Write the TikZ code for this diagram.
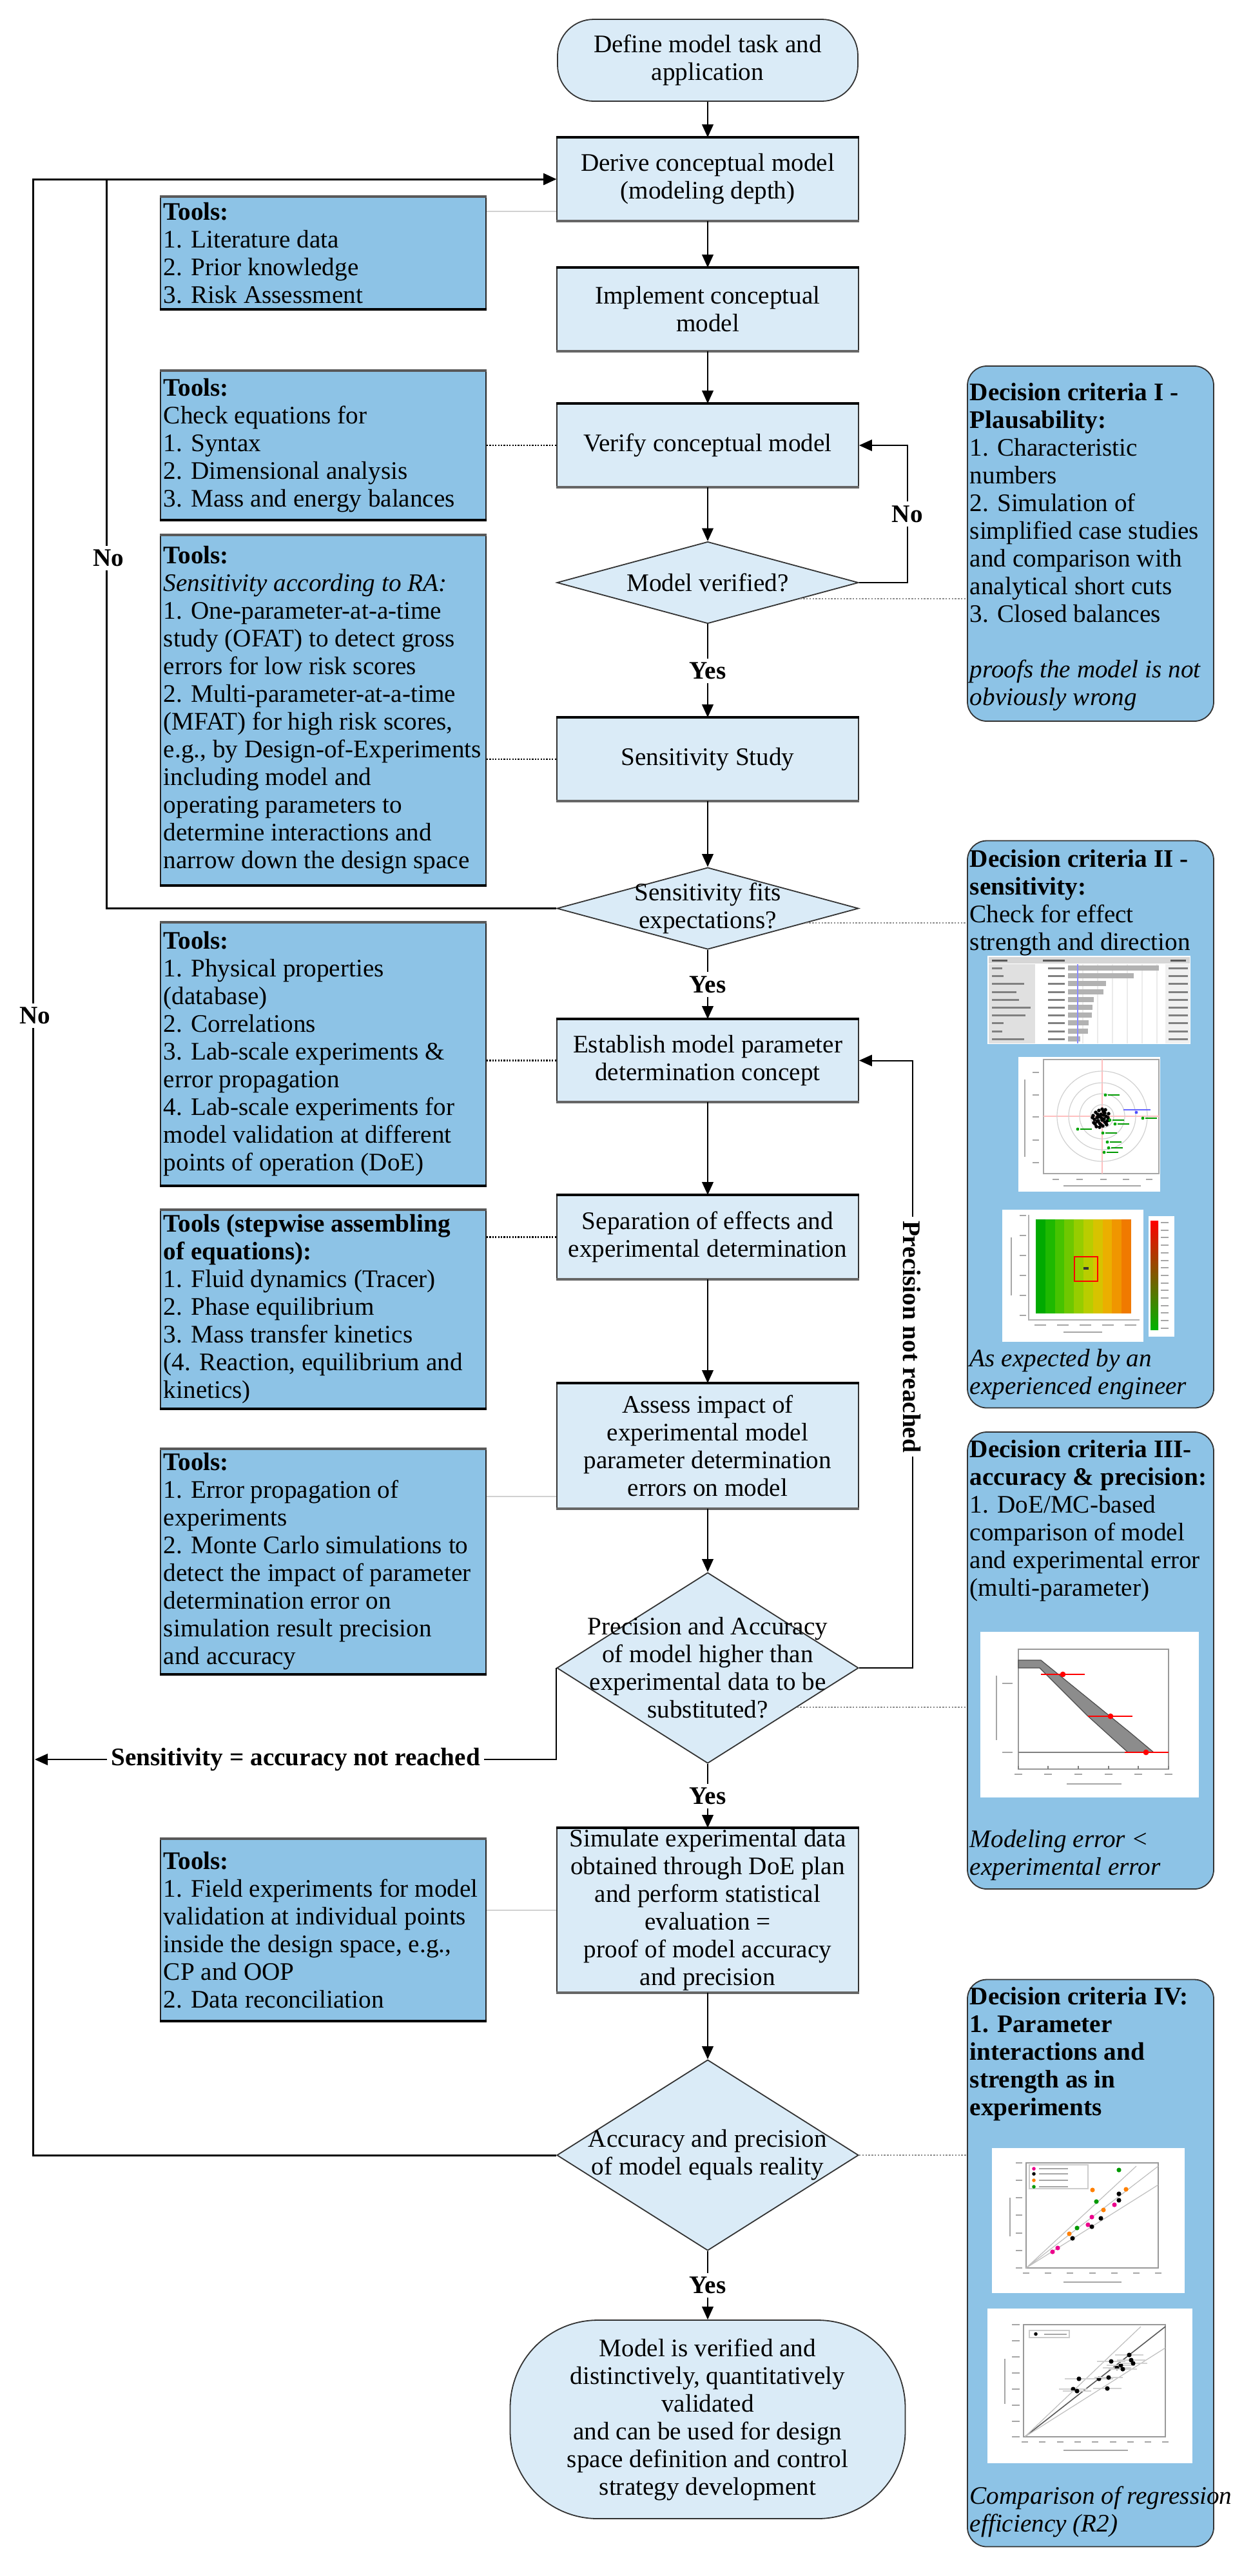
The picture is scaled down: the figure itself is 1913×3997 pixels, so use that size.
\documentclass[tikz,border=0pt]{standalone}
\usepackage{fontspec}
\setmainfont{Liberation Serif}
\usetikzlibrary{arrows.meta,shapes.geometric,calc}
\definecolor{procfill}{RGB}{218,235,247}
\definecolor{toolfill}{RGB}{141,195,230}
\definecolor{hmA}{RGB}{0,170,0}
\definecolor{hmB}{RGB}{30,185,0}
\definecolor{hmC}{RGB}{70,195,0}
\definecolor{hmD}{RGB}{110,200,0}
\definecolor{hmE}{RGB}{150,205,0}
\definecolor{hmF}{RGB}{185,205,0}
\definecolor{hmG}{RGB}{215,195,0}
\definecolor{hmH}{RGB}{235,175,0}
\definecolor{hmI}{RGB}{240,150,0}
\definecolor{hmJ}{RGB}{240,122,0}
\newcommand\mainsize{\fontsize{9.8pt}{10.75pt}\selectfont}
\begin{document}
\begin{tikzpicture}[x=0.25pt,y=-0.25pt,font=\mainsize,
 proc/.style={draw=black!80,line width=0.45pt,fill=procfill,minimum width=117pt,minimum height=32pt,inner sep=0pt,align=center},
 dia/.style={diamond,draw=black!80,line width=0.45pt,fill=procfill,minimum width=117pt,inner sep=0pt},
 diatext/.style={align=center,inner sep=0pt},
 tool/.style={draw=black!85,line width=0.45pt,fill=toolfill,minimum width=126.25pt,inner sep=0pt},
 tooltext/.style={anchor=west,align=left,inner sep=0pt},
 crit/.style={draw=black!80,line width=0.45pt,fill=toolfill,rounded corners=7.5pt,minimum width=95.5pt,inner sep=0pt},
 crittext/.style={anchor=north west,align=left,inner sep=0pt},
 flow/.style={draw=black,line width=0.5pt,-{Triangle[length=5pt,width=4.4pt]}},
 lbl/.style={fill=white,inner sep=1.5pt,font=\mainsize\bfseries},
 dotline/.style={draw=black,line width=0.7pt,dash pattern=on 0.55pt off 0.55pt},
 dcline/.style={draw=black!45,line width=0.6pt,dash pattern=on 0.6pt off 0.6pt},
 greyline/.style={draw=black!18,line width=0.6pt},
 stub/.style={fill=black!45},
 thin/.style={line width=0.3pt}
]
\useasboundingbox (0,0) rectangle (1913,3997);

% ---------- central column ----------
\node[proc,rounded corners=14pt,minimum width=116.5pt,minimum height=31.75pt] (start) at (1098,93.5) {Define model task and\\application};
\node[proc] (derive) at (1098,278) {Derive conceptual model\\(modeling depth)};
\node[proc] (implement) at (1098,480) {Implement conceptual\\model};
\node[proc] (verify) at (1098,691) {Verify conceptual model};
\node[dia,minimum height=31.75pt] (dec1) at (1098,904) {};
\node[diatext] (dec1t) at (dec1) {Model verified?};
\node[proc] (sens) at (1098,1178) {Sensitivity Study};
\node[dia,minimum height=31.75pt] (dec2) at (1098,1409.5) {};
\node[diatext] (dec2t) at (dec2) {Sensitivity fits\\expectations?};
\node[proc,minimum height=31.75pt] (establish) at (1098,1645.5) {Establish model parameter\\determination concept};
\node[proc,minimum height=32.25pt] (separation) at (1098,1919.5) {Separation of effects and\\experimental determination};
\node[proc,minimum height=48.25pt] (assess) at (1098,2243.5) {Assess impact of\\experimental model\\parameter determination\\errors on model};
\node[dia,minimum height=74pt] (dec3) at (1098,2588) {};
\node[diatext] (dec3t) at (dec3) {Precision and Accuracy\\of model higher than\\experimental data to be\\substituted?};
\node[proc,minimum height=63.5pt] (simulate) at (1098,2964) {Simulate experimental data\\obtained through DoE plan\\and perform statistical\\evaluation =\\proof of model accuracy\\and precision};
\node[dia,minimum height=74pt] (dec4) at (1098,3344) {};
\node[diatext] (dec4t) at (dec4) {Accuracy and precision\\of model equals reality};
\node[proc,rounded corners=34pt,minimum width=153.25pt,minimum height=77pt] (finish) at (1098,3754) {Model is verified and\\distinctively, quantitatively\\validated\\and can be used for design\\space definition and control\\strategy development};

\foreach \n in {derive,implement,verify,sens,establish,separation,assess,simulate}{
  \draw[line width=0.9pt] (\n.north west) -- (\n.north east);
  \draw[line width=0.9pt,black!60] (\n.south west) -- (\n.south east);
}

% ---------- tools boxes ----------
\node[tool,minimum height=43.25pt] (t1) at (501.5,392.5) {};
\node[tooltext] (t1t) at ($(t1.west)+(5,0)$) {\textbf{Tools:}\\1. Literature data\\2. Prior knowledge\\3. Risk Assessment};
\node[tool,minimum height=57.5pt] (t2) at (501.5,691) {};
\node[tooltext] (t2t) at ($(t2.west)+(5,0)$) {\textbf{Tools:}\\Check equations for\\1. Syntax\\2. Dimensional analysis\\3. Mass and energy balances};
\node[tool,minimum height=135.5pt] (t3) at (501.5,1102) {};
\node[tooltext] (t3t) at ($(t3.west)+(5,0)$) {\textbf{Tools:}\\\textit{Sensitivity according to RA:}\\1. One-parameter-at-a-time\\study (OFAT) to detect gross\\errors for low risk scores\\2. Multi-parameter-at-a-time\\(MFAT) for high risk scores,\\e.g., by Design-of-Experiments\\including model and\\operating parameters to\\determine interactions and\\narrow down the design space};
\node[tool,minimum height=101.75pt] (t4) at (501.5,1635.5) {};
\node[tooltext] (t4t) at ($(t4.west)+(5,0)$) {\textbf{Tools:}\\1. Physical properties\\(database)\\2. Correlations\\3. Lab-scale experiments \&\\error propagation\\4. Lab-scale experiments for\\model validation at different\\points of operation (DoE)};
\node[tool,minimum height=76.75pt] (t5) at (501.5,2031.5) {};
\node[tooltext] (t5t) at ($(t5.west)+(5,0)$) {\textbf{Tools (stepwise assembling}\\\textbf{of equations):}\\1. Fluid dynamics (Tracer)\\2. Phase equilibrium\\3. Mass transfer kinetics\\(4. Reaction, equilibrium and\\kinetics)};
\node[tool,minimum height=87pt] (t6) at (501.5,2423) {};
\node[tooltext] (t6t) at ($(t6.west)+(5,0)$) {\textbf{Tools:}\\1. Error propagation of\\experiments\\2. Monte Carlo simulations to\\detect the impact of parameter\\determination error on\\simulation result precision\\and accuracy};
\node[tool,minimum height=70.25pt] (t7) at (501.5,2994.5) {};
\node[tooltext] (t7t) at ($(t7.west)+(5,0)$) {\textbf{Tools:}\\1. Field experiments for model\\validation at individual points\\inside the design space, e.g.,\\CP and OOP\\2. Data reconciliation};

\foreach \n in {t1,t2,t3,t4,t5,t6,t7}{
  \draw[line width=0.9pt,black!65] (\n.north west) -- (\n.north east);
  \draw[line width=0.9pt] (\n.south west) -- (\n.south east);
}

% ---------- decision criteria boxes ----------
\node[crit,minimum height=137.75pt] (dc1) at (1692,843.5) {};
\node[crittext] (dc1t) at (1504,593) {\textbf{Decision criteria I -}\\\textbf{Plausability:}\\1. Characteristic\\numbers\\2. Simulation of\\simplified case studies\\and comparison with\\analytical short cuts\\3. Closed balances\\~\\\textit{proofs the model is not}\\\textit{obviously wrong}};
\node[crit,minimum height=220pt] (dc2) at (1692,1744.5) {};
\node[crittext] (dc2t) at (1504,1317) {\textbf{Decision criteria II -}\\\textbf{sensitivity:}\\Check for effect\\strength and direction};
\node[crittext] (dc2i) at (1504,2092) {\textit{As expected by an}\\\textit{experienced engineer}};
\node[crit,minimum height=177.25pt] (dc3) at (1692,2576.5) {};
\node[crittext] (dc3t) at (1504,2233) {\textbf{Decision criteria III-}\\\textbf{accuracy \& precision:}\\1. DoE/MC-based\\comparison of model\\and experimental error\\(multi-parameter)};
\node[crittext] (dc3i) at (1504,2838) {\textit{Modeling error <}\\\textit{experimental error}};
\node[crit,minimum height=220pt] (dc4) at (1692,3511.5) {};
\node[crittext] (dc4t) at (1504,3082) {\textbf{Decision criteria IV:}\\\textbf{1. Parameter}\\\textbf{interactions and}\\\textbf{strength as in}\\\textbf{experiments}};
\node[crittext] (dc4i) at (1504,3857) {\textit{Comparison of regression}\\\textit{efficiency (R2)}};

% ---------- main flow ----------
\draw[flow] (start) -- (derive);
\draw[flow] (derive) -- (implement);
\draw[flow] (implement) -- (verify);
\draw[flow] (verify) -- (dec1);
\draw[flow] (dec1) -- node[lbl]{Yes} (sens);
\draw[flow] (sens) -- (dec2);
\draw[flow] (dec2) -- node[lbl]{Yes} (establish);
\draw[flow] (establish) -- (separation);
\draw[flow] (separation) -- (assess);
\draw[flow] (assess) -- (dec3);
\draw[flow] (dec3) -- node[lbl]{Yes} (simulate);
\draw[flow] (simulate) -- (dec4);
\draw[flow] (dec4) -- node[lbl]{Yes} (finish);

% ---------- loops ----------
\draw[flow] (dec1.east) -- ++(75,0) |- node[lbl,pos=0.25]{No} (verify.east);
\draw[flow,line width=0.75pt] (dec4.west) -- ++(-812,0) |- (derive.west);
\draw[flow,line width=0.75pt] (dec2.west) -- ++(-698,0) |- (derive.west);
\node[lbl] (no2) at (168,866) {No};
\node[lbl] (no3) at (54,1576) {No};
\coordinate (sensend) at (54,2730);
\draw[flow] (dec3.west) |- node[lbl,pos=0.75]{Sensitivity = accuracy not reached} (sensend);
\draw[flow] (dec3.east) -- ++(83,0) |- (establish.east);
\node[lbl,rotate=-90] (prec) at (1415,2074) {Precision not reached};

% ---------- tool connectors ----------
\coordinate (yA) at (0,328);
\coordinate (yB) at (0,2322);
\draw[greyline] (t1.east |- yA) -- (derive.west |- yA);
\draw[dotline] (t2.east) -- (verify.west);
\draw[dotline] (t3.east |- sens.west) -- (sens.west);
\draw[dotline] (t4.east |- establish.west) -- (establish.west);
\draw[dotline] (t5.east |- separation.west) -- (separation.west);
\draw[greyline] (t6.east |- yB) -- (assess.west |- yB);
\draw[greyline] (t7.east |- simulate.west) -- (simulate.west);

% ---------- criteria connectors ----------
\coordinate (d1a) at ($(dec1.east)!0.39!(dec1.south)$);
\coordinate (d2a) at ($(dec2.east)!0.35!(dec2.south)$);
\coordinate (d3a) at ($(dec3.east)!0.41!(dec3.south)$);
\draw[dcline] (d1a) -- (d1a -| dc1.west);
\draw[dcline] (d2a) -- (d2a -| dc2.west);
\draw[dcline] (d3a) -- (d3a -| dc3.west);
\draw[dcline] (dec4.east) -- (dec4.east -| dc4.west);

% ---------- DC II: bar chart ----------
\fill[white] (1532,1483) rectangle (1847,1620);
\fill[black!12] (1534,1496) rectangle (1606,1619);
\fill[black!6] (1808,1496) rectangle (1846,1619);
\fill[black!16] (1534,1485) rectangle (1846,1495);
\foreach \x in {1680,1703,1726,1749,1772,1795}{\draw[black!8,thin] (\x,1496) -- (\x,1619);}
\foreach \i/\e in {0/1798,1/1759,2/1716,3/1712,4/1697,5/1695,6/1694,7/1689,8/1688,9/1676}{
  \fill[black!30] (1657,{1498+12.2*\i}) rectangle (\e,{1506+12.2*\i});}
\draw[blue!45,line width=0.6pt] (1672,1496) -- (1672,1619);
\foreach \i/\w in {0/16,1/18,2/50,3/38,4/42,5/60,6/52,7/18,8/16,9/50}{
  \fill[black!50] (1539,{1501+12.2*\i}) rectangle ++(\w,3);
  \fill[black!50] (1626,{1501+12.2*\i}) rectangle ++(26,3);
  \fill[black!50] (1813,{1501+12.2*\i}) rectangle ++(30,3);}
\fill[black!65] (1539,1489) rectangle ++(24,3);
\fill[black!65] (1618,1489) rectangle ++(34,3);
\fill[black!65] (1816,1489) rectangle ++(24,3);

% ---------- DC II: polar plot ----------
\fill[white] (1580,1640) rectangle (1800,1849);
\draw[black!35,thin] (1619,1644) rectangle (1798,1821);
\draw[red!25,thin] (1710,1644) -- (1710,1821) (1619,1732) -- (1798,1732);
\foreach \r in {17.5,13,8.75,4.5}{\draw[black!18,thin] (1710,1732) circle[radius=\r pt];}
\foreach \dx/\dy in {-12/-4,-10/2,-8/-9,-6/5,-4/-2,-2/8,0/-6,2/3,4/-10,6/6,8/-3,10/4,12/-7,-9/9,-3/-12,3/12,7/-13,-7/13,1/0,-1/-3,5/1,-5/-6,9/10,-11/7,11/-1,0/10,-4/4,4/-5,6/-8,-6/-1,2/-14,-2/14,13/3,-13/-1,8/8}{
  \fill[black] ({1708+\dx},{1735+\dy}) circle[radius=0.7pt];}
\foreach \px/\py in {1715/1699,1773/1735,1672/1752,1711/1758,1718/1772,1720/1781,1713/1788,1722/1738,1730/1744}{
  \fill[green!65!black] (\px,\py) circle[radius=0.6pt];
  \draw[green!60!black,line width=0.4pt] ({\px+4},\py) -- ++(18,0);}
\fill[blue!70] (1763,1726) circle[radius=0.6pt];
\draw[blue!60,line width=0.4pt] (1743,1722) -- (1785,1722);
\foreach \yy in {1663,1698,1732,1768,1803}{\fill[black!35] (1602,\yy) rectangle ++(10,2);}
\foreach \xx in {1633,1670,1707,1742,1778}{\fill[black!35] (\xx,1829) rectangle ++(10,2);}
\fill[black!35] (1650,1839) rectangle (1770,1841);
\fill[black!35] (1589,1675) rectangle (1591,1795);

% ---------- DC II: heat map ----------
\fill[white] (1555,1877) rectangle (1774,2082);
\foreach \i/\c in {0/hmA,1/hmB,2/hmC,3/hmD,4/hmE,5/hmF,6/hmG,7/hmH,8/hmI,9/hmJ}{
  \fill[\c] ({1607+14.8*\i},1892) rectangle ({1607+14.8*\i+15},2038);}
\draw[red,line width=0.7pt] (1667,1950) rectangle (1703,1988);
\fill[black!80] (1681,1966) rectangle (1689,1970);
\draw[black!30,thin] (1596,1885) -- (1596,2048) -- (1768,2048);
\foreach \yy in {1885,1916,1947,1978,2009,2040}{\fill[black!35] (1582,\yy) rectangle ++(10,2);}
\foreach \xx in {1605,1640,1675,1710,1745}{\fill[black!35] (\xx,2055) rectangle ++(18,2);}
\fill[black!35] (1650,2066) rectangle (1710,2068);
\fill[black!35] (1568,1920) rectangle (1570,2010);
\fill[white] (1782,1887) rectangle (1822,2074);
\shade[top color=red,middle color=yellow!85!orange,bottom color=green!70!black] (1785,1894) rectangle (1797,2063);
\foreach \k in {0,...,14}{\fill[black!35] (1801,{1896+11.7*\k}) rectangle ++(12,2);}

% ---------- DC III: settler plot ----------
\fill[white] (1521,2532) rectangle (1860,2789);
\draw[black!40,thin] (1580,2559) rectangle (1813,2745);
\fill[black!45,draw=black!70,thin] (1580,2576) -- (1615,2576) -- (1753,2688) -- (1790,2719) -- (1750,2719) -- (1687,2662) -- (1613,2588) -- (1580,2588) -- cycle;
\draw[black!50,line width=0.4pt] (1580,2719) -- (1813,2719);
\draw[red,line width=0.5pt] (1745,2719) -- (1813,2719);
\draw[red,line width=0.5pt] (1615,2598) -- (1683,2598) (1688,2663) -- (1757,2663);
\fill[red] (1649,2598) circle[radius=1.1pt];
\fill[red] (1723,2663) circle[radius=1.1pt];
\fill[red] (1778,2719) circle[radius=1.1pt];
\foreach \xx in {1580,1626,1673,1720,1766,1813}{\draw[black!50,thin] (\xx,2745) -- (\xx,2740); \fill[black!35] ({\xx-6},2752) rectangle ++(12,2);}
\fill[black!35] (1655,2767) rectangle (1740,2769);
\fill[black!35] (1555,2611) rectangle ++(16,2);
\fill[black!35] (1555,2718) rectangle ++(16,2);
\fill[black!35] (1545,2600) rectangle (1547,2700);

% ---------- DC IV: scatter 1 ----------
\fill[white] (1539,3333) rectangle (1838,3558);
\draw[black!40,thin] (1592,3356) rectangle (1797,3519);
\draw[black!25,thin] (1592,3519) -- (1763,3361) (1592,3519) -- (1797,3361) (1592,3519) -- (1797,3390);
\foreach \px/\py in {1633/3494,1641/3488,1688/3452,1694/3440,1729/3421}{\fill[magenta] (\px,\py) circle[radius=0.9pt];}
\foreach \px/\py in {1664/3473,1694/3455,1708/3442,1736/3414,1736/3404}{\fill[black] (\px,\py) circle[radius=0.9pt];}
\foreach \px/\py in {1659/3466,1695/3398,1712/3429,1747/3397}{\fill[orange] (\px,\py) circle[radius=0.9pt];}
\foreach \px/\py in {1671/3457,1701/3416,1736/3367}{\fill[green!60!black] (\px,\py) circle[radius=0.9pt];}
\draw[black!20,thin] (1597,3359) rectangle (1688,3396);
\foreach \yy/\c in {3365/magenta,3373/black,3383/orange,3393/green!60!black}{
  \fill[\c] (1604,\yy) circle[radius=0.7pt];
  \fill[black!35] (1612,{\yy-1}) rectangle ++(45,2);}
\foreach \xx in {1592,1626,1660,1695,1729,1763,1797}{\fill[black!35] ({\xx-5},3526) rectangle ++(10,2);}
\foreach \yy in {3356,3383,3410,3437,3465,3492,3519}{\fill[black!35] (1576,{\yy-1}) rectangle ++(10,2);}
\fill[black!35] (1650,3540) rectangle (1740,3542);
\fill[black!35] (1566,3410) rectangle (1568,3470);

% ---------- DC IV: scatter 2 ----------
\fill[white] (1532,3582) rectangle (1850,3822);
\draw[black!40,thin] (1588,3607) rectangle (1808,3781);
\draw[black!65,line width=0.4pt] (1590,3781) -- (1808,3610);
\draw[black!25,thin] (1590,3781) -- (1770,3610) (1590,3781) -- (1808,3643);
\foreach \px/\py in {1665/3707,1671/3710,1674/3691,1705/3691,1718/3706,1720/3689,1724/3664,1733/3674,1739/3670,1742/3676,1752/3654,1755/3662,1758/3667}{
  \draw[black!18,thin] ({\px-22},\py) -- ({\px+22},\py);
  \fill[black] (\px,\py) circle[radius=0.9pt];}
\draw[black!20,thin] (1597,3616) rectangle (1659,3627);
\fill[black] (1607,3621.5) circle[radius=0.7pt];
\fill[black!35] (1620,3620.5) rectangle ++(35,2);
\foreach \xx in {1590,1617,1645,1672,1699,1727,1754,1781,1808}{\fill[black!35] ({\xx-5},3788) rectangle ++(10,2);}
\foreach \yy in {3607,3632,3657,3682,3707,3732,3757,3781}{\fill[black!35] (1570,{\yy-1}) rectangle ++(12,2);}
\fill[black!35] (1650,3801) rectangle (1750,3803);
\fill[black!35] (1558,3660) rectangle (1560,3730);

\end{tikzpicture}
\end{document}
